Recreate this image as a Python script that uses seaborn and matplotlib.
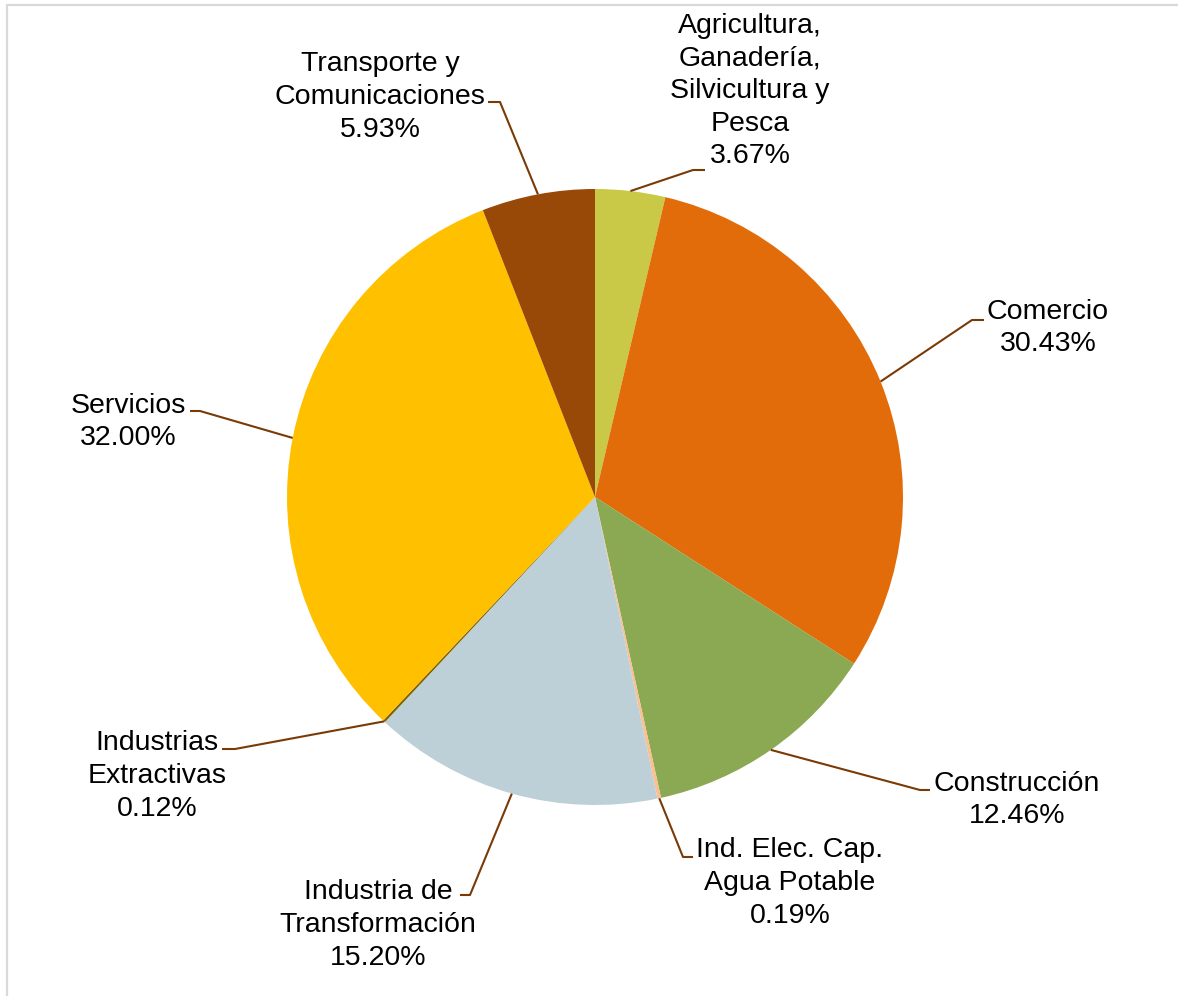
import numpy as np
import seaborn as sns
import matplotlib.pyplot as plt
from matplotlib.lines import Line2D

sns.set_style("white")
plt.rcParams['font.family'] = ['Liberation Sans', 'DejaVu Sans']

# data
sectors = ['Agricultura,\nGanadería,\nSilvicultura y\nPesca', 'Comercio', 'Construcción',
           'Ind. Elec. Cap.\nAgua Potable', 'Industria de\nTransformación',
           'Industrias\nExtractivas', 'Servicios', 'Transporte y\nComunicaciones']
shares = [3.67, 30.43, 12.46, 0.19, 15.20, 0.12, 32.00, 5.93]
colors = ['#C9C947', '#E36C0A', '#8BA852', '#FAC090', '#BDD0D8', '#7F6000', '#FFC000', '#984807']

# label layout (pixel coords): text centre, leader elbow, leader end
text_pos = [(750, 91), (1048, 328), (1017, 800), (790, 883), (378, 925), (157, 776), (128, 422), (380, 97)]
elbows = [(693, 170), (972, 320), (920, 790), (683, 857), (470, 895), (235, 749), (200, 411), (500, 102)]
ends = [(705, 170), (984, 320), (930, 790), (693, 857), (460, 895), (222, 749), (190, 411), (488, 102)]

cx, cy, r = 595, 497, 308

fig = plt.figure(figsize=(11.78, 9.96), dpi=100)
ax = fig.add_axes([0, 0, 1, 1])

ax.pie(shares, colors=colors, center=(cx, cy), radius=r, startangle=-90,
       counterclock=True, wedgeprops=dict(linewidth=0), frame=True)
ax.set_xlim(0, 1178)
ax.set_ylim(996, 0)
ax.set_aspect('equal')
ax.axis('off')

cum = np.cumsum([0] + shares)
for i, (lab, val) in enumerate(zip(sectors, shares)):
    mid = np.deg2rad(-90 + (cum[i] + val / 2) * 3.6)
    sx, sy = cx + r * np.cos(mid), cy + r * np.sin(mid)
    ex, ey = elbows[i]
    fx, fy = ends[i]
    ax.plot([sx, ex, fx], [sy, ey, fy], color='#7A3A05', lw=1.5, solid_capstyle='butt')
    tx, ty = text_pos[i]
    ax.text(tx, ty, f'{lab}\n{val:.2f}%', ha='center', va='center', fontsize=20.5,
            color='black', linespacing=1.33)

# chart area border (top and left visible)
fig.add_artist(Line2D([7 / 1178, 1], [1 - 5.5 / 996, 1 - 5.5 / 996], color='#D9D9D9', lw=1.6))
fig.add_artist(Line2D([7 / 1178, 7 / 1178], [0, 1 - 5.5 / 996], color='#D9D9D9', lw=1.6))

fig.savefig('out.png', dpi=100, facecolor='white')
